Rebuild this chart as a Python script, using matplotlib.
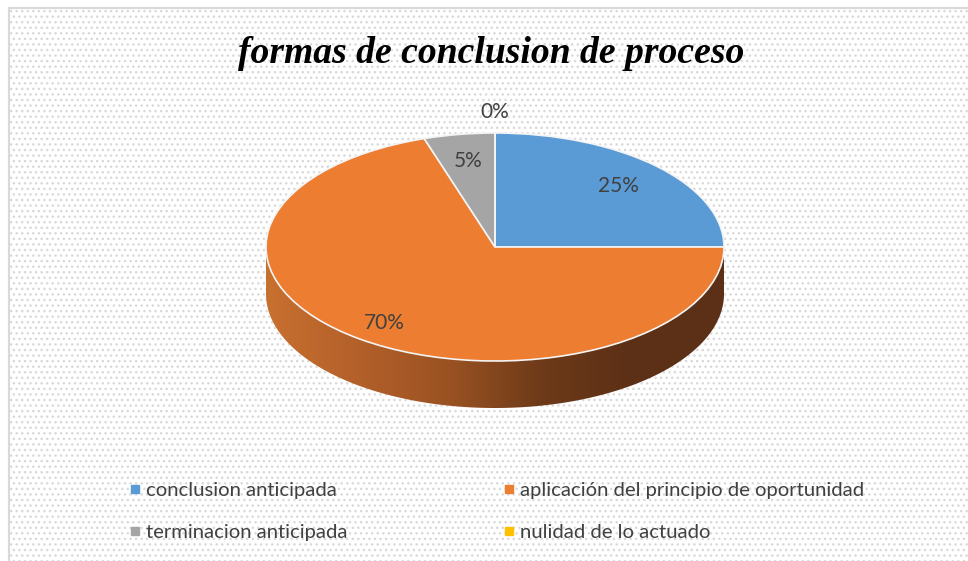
import numpy as np
import matplotlib
matplotlib.use("Agg")
import matplotlib.pyplot as plt
from matplotlib.patches import Rectangle, Polygon
from matplotlib.lines import Line2D
from matplotlib.colors import LinearSegmentedColormap

categories = ["conclusion anticipada", "aplicación del principio de oportunidad",
              "terminacion anticipada", "nulidad de lo actuado"]
values = [25, 70, 5, 0]
labels = ["25%", "70%", "5%", "0%"]
colors = ["#5b9bd5", "#ed7d31", "#a5a5a5", "#ffc000"]
title = "formas de conclusion de proceso"

W, H = 968, 561
fig = plt.figure(figsize=(W / 100, H / 100), dpi=100)
fig.patch.set_facecolor("white")

plt.rcParams["hatch.color"] = "#dcdcdc"
plt.rcParams["hatch.linewidth"] = 1.0
bg = Rectangle((8.5 / W, -0.05), 1.2, (H - 8.5) / H + 0.05, transform=fig.transFigure,
               facecolor="white", edgecolor="#d9d9d9", hatch="...", linewidth=1.5, zorder=-10)
fig.patches.append(bg)
border = Rectangle((8.5 / W, -0.05), 1.2, (H - 8.5) / H + 0.05, transform=fig.transFigure,
                   facecolor="none", edgecolor="#d9d9d9", linewidth=1.5, zorder=-9)
fig.patches.append(border)

# pixel geometry of ellipse
cx, cy = 495, 247   # from top
rx, ry = 229, 114
depth = 47 / ry

ax = fig.add_axes([0, 0, 1, 1], zorder=2)
ax.patch.set_alpha(0)
wedges, texts, autotexts = ax.pie(values, colors=colors, startangle=90, counterclock=False,
                                  radius=1, center=(0, 0), autopct="%1.0f%%", pctdistance=0.76,
                                  wedgeprops=dict(edgecolor="#f4f4f4", linewidth=1.2),
                                  textprops=dict(color="#404040", fontsize=15, family="Lato"))
for t, lab in zip(autotexts, labels):
    t.set_text(lab)
# label placement tweaks (Excel-like)
x70, y70 = autotexts[1].get_position()
autotexts[1].set_position((x70 * 0.82 / 0.76, y70 * 0.82 / 0.76))
autotexts[3].set_position((0, 1.18))

# side of the 3D disc (front half, all orange)
t = np.linspace(np.pi, 2 * np.pi, 300)
top = np.column_stack([np.cos(t), np.sin(t)])
bot = np.column_stack([np.cos(t[::-1]), np.sin(t[::-1]) - depth])
side = Polygon(np.vstack([top, bot]), closed=True, facecolor="none", edgecolor="none")
ax.add_patch(side)
cmap = LinearSegmentedColormap.from_list("side", ["#c8702f", "#b3602a", "#9a5222", "#6e3a19", "#5c3016", "#5c3016"])
grad = np.linspace(0, 1, 256).reshape(1, -1)
im = ax.imshow(grad, cmap=cmap, extent=(-1, 1, -1 - depth, 0), aspect="auto", zorder=0.5)
im.set_clip_path(side)

ax.set_aspect("auto")
ax.set_xlim(-cx / rx, (W - cx) / rx)
ax.set_ylim(-(H - cy) / ry, cy / ry)
ax.axis("off")

fig.text((cx - 4) / W, 1 - 54 / H, title, ha="center", va="center", fontsize=27.1,
         family="Liberation Serif", style="italic", weight="bold", color="#000000")

handles = [Line2D([], [], marker="s", linestyle="none", markersize=6, color=c) for c in colors]
order = [0, 2, 1, 3]
leg = fig.legend([handles[i] for i in order], [categories[i] for i in order],
                 ncol=2, loc="upper left", bbox_to_anchor=(111 / W, 1 - 464 / H),
                 frameon=False, prop=dict(family="Lato", size=14.6),
                 labelcolor="#404040", handlelength=0.6, handletextpad=0.25,
                 columnspacing=7.65, labelspacing=1.2)

fig.savefig("out.png", dpi=100)
